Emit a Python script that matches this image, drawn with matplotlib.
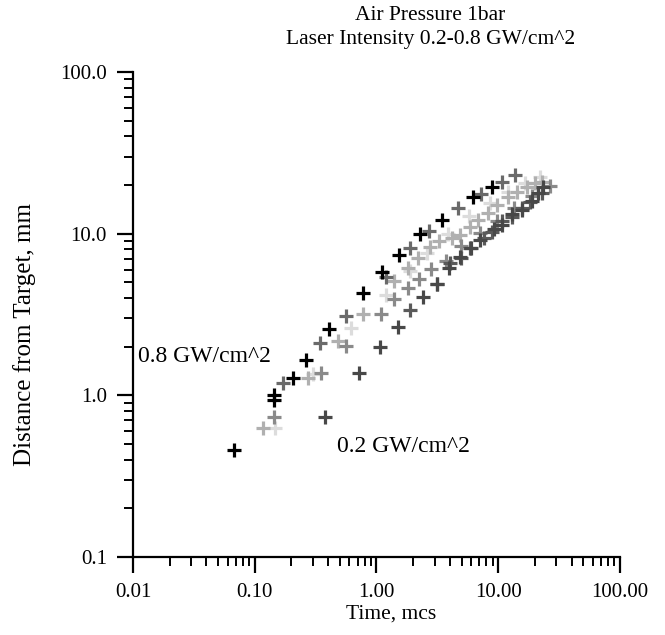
import numpy as np
import matplotlib
matplotlib.use("Agg")
import matplotlib.pyplot as plt
from matplotlib.ticker import FormatStrFormatter, LogLocator, NullFormatter

plt.rcParams['font.family'] = ['Liberation Serif', 'DejaVu Serif']

# 0.8 GW/cm^2 (black, upper edge)
t_08 = [0.067, 0.143, 0.143, 0.205, 0.262, 0.406, 0.774, 1.11, 1.54, 2.28, 3.45, 6.21, 8.89]
d_08 = [0.46, 1.01, 0.94, 1.28, 1.66, 2.58, 4.31, 5.82, 7.41, 9.9, 12.2, 16.9, 19.5]

# upper dark gray
t_07 = [0.17, 0.343, 0.561, 1.2, 1.88, 2.72, 4.67, 7.2, 10.7, 13.7]
d_07 = [1.19, 2.11, 3.1, 5.4, 8.19, 10.4, 14.5, 17.6, 21.0, 23.2]

# mid gray
t_06 = [0.143, 0.35, 0.561, 1.09, 1.40, 1.82, 2.25, 2.82, 3.75, 4.99, 7.03, 9.7, 13.4, 18.9, 26.5]
d_06 = [0.73, 1.38, 2.03, 3.2, 3.96, 4.64, 5.26, 6.07, 6.8, 8.43, 10.1, 12.0, 14.5, 17.2, 19.8]

# light gray
t_05 = [0.116, 0.273, 0.482, 0.774, 1.40, 1.82, 2.2, 2.75, 3.28, 4.17, 4.85, 5.86, 6.82, 8.24,
        9.77, 12.0, 14.3, 17.2, 20.0, 22.9]
d_05 = [0.63, 1.28, 2.17, 3.2, 5.12, 6.15, 7.1, 8.3, 9.05, 9.44, 9.86, 11.0, 12.2, 13.5,
        15.1, 16.9, 18.2, 19.5, 20.7, 21.0]

# very light gray
t_04 = [0.148, 0.30, 0.62, 1.2, 1.9, 2.6, 3.9, 5.8, 8.5, 12.0, 16.5, 22.0]
d_04 = [0.63, 1.35, 2.6, 4.2, 5.9, 7.6, 10.0, 12.8, 15.4, 18.0, 20.5, 22.5]

# 0.3 GW/cm^2 (dark)
t_03 = [1.89, 3.16, 4.02, 4.99, 5.86, 7.58, 8.89, 10.7, 13.0, 15.6, 18.2, 22.8]
d_03 = [3.38, 4.9, 6.61, 7.1, 8.19, 9.44, 10.3, 12.0, 12.7, 14.5, 15.8, 17.9]

# 0.2 GW/cm^2 (dark, lower edge)
t_02 = [0.377, 0.718, 1.07, 1.51, 2.42, 3.14, 3.97, 4.85, 6.03, 7.08, 9.17, 10.7, 12.9, 15.7,
        18.9, 21.2, 23.3]
d_02 = [0.74, 1.38, 2.0, 2.66, 4.07, 4.9, 6.15, 7.21, 8.19, 9.18, 10.7, 11.4, 13.3, 14.1,
        16.0, 17.9, 19.5]

series = [
    (t_04, d_04, '#dcdcdc'),
    (t_05, d_05, '#b0b0b0'),
    (t_06, d_06, '#8a8a8a'),
    (t_03, d_03, '#5a5a5a'),
    (t_02, d_02, '#484848'),
    (t_07, d_07, '#6a6a6a'),
    (t_08, d_08, '#000000'),
]

fig = plt.figure(figsize=(6.65, 6.35), dpi=100)
ax = fig.add_axes([0.2, 0.1228, 0.7323, 0.7637])

for t, d, c in series:
    ax.plot(t, d, linestyle='none', marker='+', markersize=10,
            markeredgewidth=2.3, color=c)

ax.set_xscale('log')
ax.set_yscale('log')
ax.set_xlim(0.01, 100)
ax.set_ylim(0.1, 100)

for s in ['top', 'right']:
    ax.spines[s].set_visible(False)
for s in ['left', 'bottom']:
    ax.spines[s].set_linewidth(1.6)

ax.xaxis.set_major_locator(LogLocator(base=10, numticks=10))
ax.yaxis.set_major_locator(LogLocator(base=10, numticks=10))
ax.xaxis.set_minor_locator(LogLocator(base=10, subs=np.arange(2, 10), numticks=10))
ax.yaxis.set_minor_locator(LogLocator(base=10, subs=np.arange(2, 10), numticks=10))
ax.xaxis.set_major_formatter(FormatStrFormatter('%.2f'))
ax.yaxis.set_major_formatter(FormatStrFormatter('%.1f'))
ax.xaxis.set_minor_formatter(NullFormatter())
ax.yaxis.set_minor_formatter(NullFormatter())
ax.tick_params(which='major', length=11.7, width=1.6, labelsize=15, direction='out', pad=7)
ax.tick_params(which='minor', length=6.5, width=1.4, direction='out')

ax.set_xlabel('Time, mcs', fontsize=15.5)
ax.xaxis.set_label_coords(0.53, -0.098)
ax.set_ylabel('Distance from Target, mm', fontsize=18)
ax.yaxis.set_label_coords(-0.2, 0.458)
fig.text(0.647, 0.99, 'Air Pressure 1bar\nLaser Intensity 0.2-0.8 GW/cm^2', fontsize=15.5,
         ha='center', va='top', linespacing=1.3)

ax.text(0.0110, 1.60, '0.8 GW/cm^2', fontsize=17, va='baseline', ha='left')
ax.text(0.471, 0.449, '0.2 GW/cm^2', fontsize=17, va='baseline', ha='left')

fig.savefig('out.png', dpi=100)
